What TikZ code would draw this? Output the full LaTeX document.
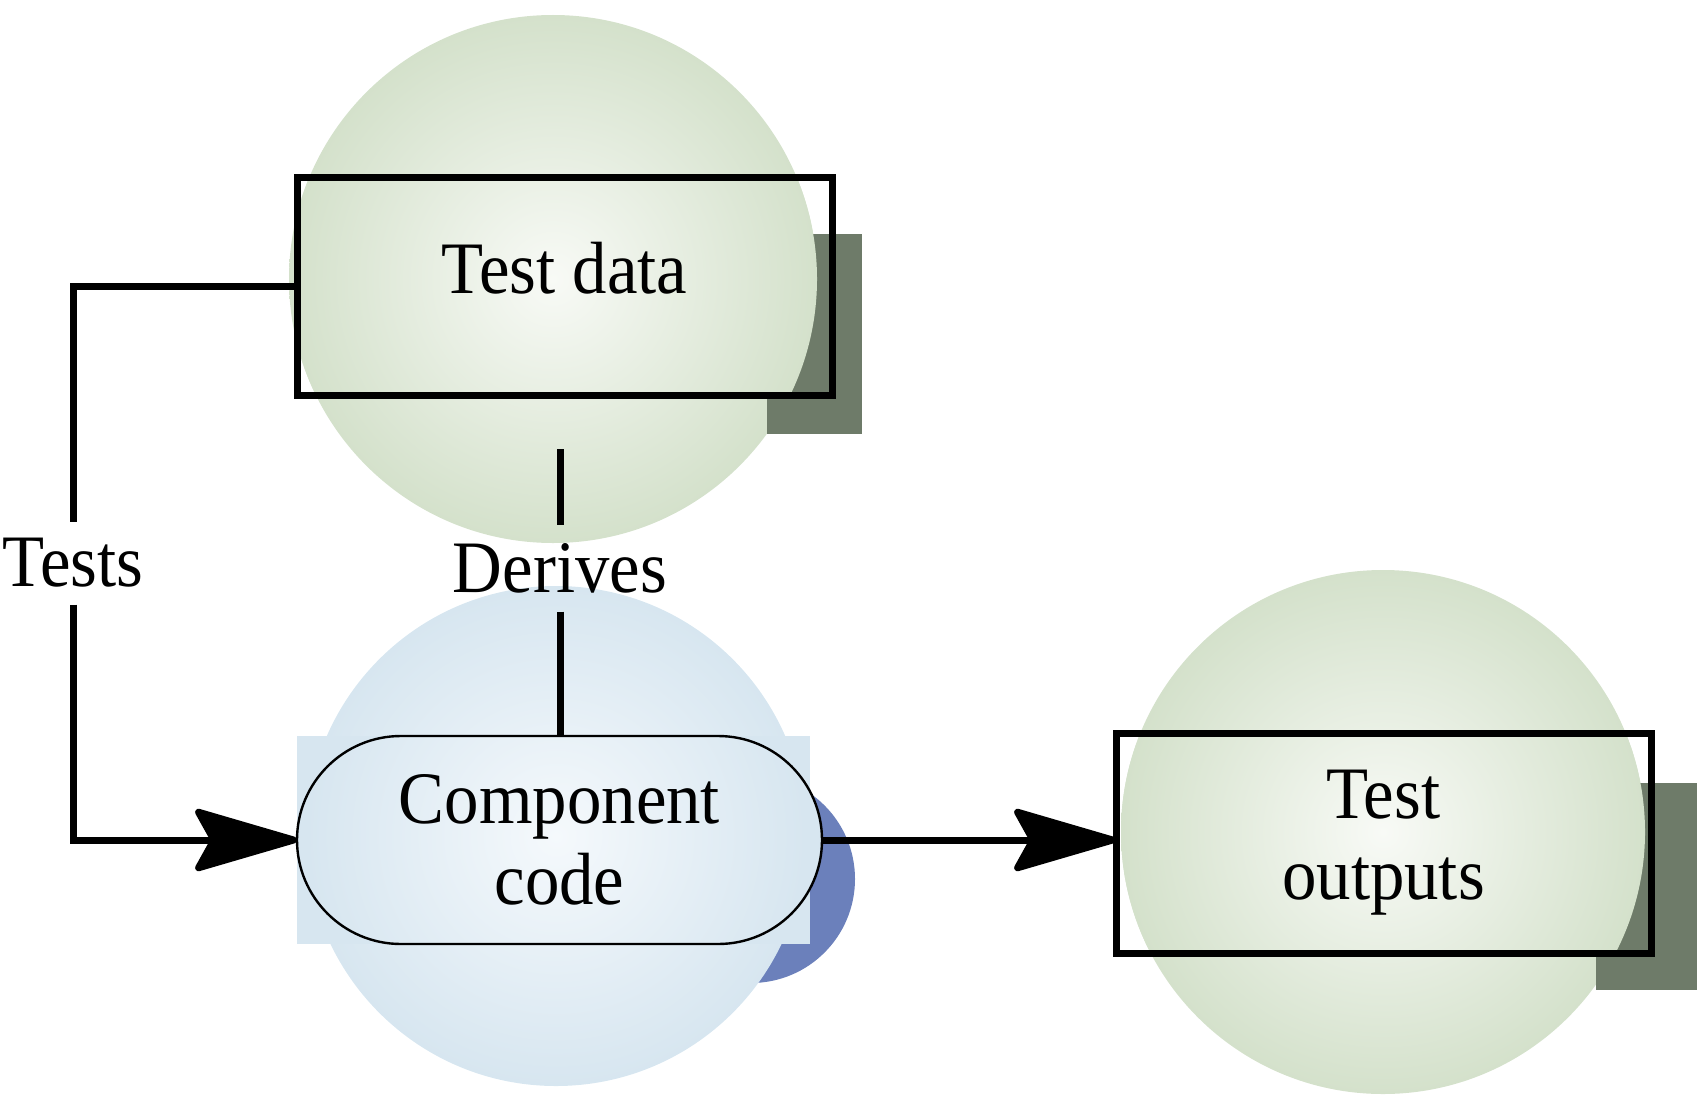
\documentclass[tikz,border=0pt]{standalone}
\usepackage{fontspec}
\setmainfont{Liberation Serif}[FakeStretch=0.93]
\usepackage{tikz}
\usetikzlibrary{arrows.meta,backgrounds,calc}
\definecolor{gedge}{HTML}{D4E1CB}
\definecolor{gcore}{HTML}{F8FAF6}
\definecolor{gshade}{HTML}{6E7B69}
\definecolor{bedge}{HTML}{D7E6F0}
\definecolor{bcore}{HTML}{F5F9FC}
\definecolor{bshade}{HTML}{6B80BB}
\tikzset{
	test flow/.style={
		x=0.5pt, y=-0.5pt,
		line width=3.5pt,
		font=\fontsize{37}{40.5}\selectfont,
		box/.style={draw, line width=3.5pt, inner sep=0pt, outer sep=0pt,
			minimum width=267.5pt, minimum height=109pt, align=center},
		pill/.style={draw, line width=1.2pt, rounded corners=52pt, inner sep=0pt,
			outer sep=0pt, minimum width=262.5pt, minimum height=104pt, align=center},
		lbl/.style={inner sep=0pt, minimum height=38pt},
		ar/.style={-{Stealth[length=57pt,width=33pt,inset=9pt,round]}},
		green ball/.style={inner color=gcore, outer color=gedge},
		blue ball/.style={inner color=bcore, outer color=bedge}
		}
}

\begin{document}
\begin{tikzpicture}[test flow]
	\useasboundingbox (0,0) rectangle (1701,1102);
	\node[box, text height=25pt, text depth=18pt] (data) at (564.5,286) {Test data};
	\node[pill] (comp) at (559.5,840) {Component\\code};
	\node[box, minimum height=110pt] (outs) at (1383.5,843) {Test\\outputs};
	\node[lbl] (tests) at (73,563) {Tests};
	\node[lbl, minimum height=40pt] (der) at (560,568) {Derives};

	\draw (data.west) -| (tests.north);
	\draw[ar] (tests.south) |- (comp.west);
	\draw[shorten <=27pt] (der.north |- data.south) -- (der.north);
	\draw (der.south) -- (der.south |- comp.north);
	\draw[ar] (comp.east) -- (comp.east -| outs.west);

	\begin{scope}[on background layer]
		% balls and drop shadows
		\shade[green ball] (553,279) circle[radius=132pt];
		\fill[gshade] (767,234) rectangle (862,434);
		\begin{scope}
			\clip (data.south west) rectangle (data.north east);
			\shade[green ball] (553,279) circle[radius=132pt];
		\end{scope}
		\shade[green ball] (1383,832) circle[radius=131pt];
		\fill[gshade] (1596,783) rectangle (1697,990);
		\begin{scope}
			\clip (outs.south west) rectangle (outs.north east);
			\shade[green ball] (1383,832) circle[radius=131pt];
		\end{scope}
		\fill[bshade, rounded corners=52pt] ($(comp.south west)+(33,39)$) rectangle ($(comp.north east)+(33,39)$);
		\shade[blue ball] (556,836) circle[radius=125pt];
		\fill[bedge] (comp.north west) rectangle ($(comp.south east)+(-12,0)$);
		\begin{scope}
			\clip[rounded corners=52pt] (comp.south west) rectangle (comp.north east);
			\fill[bedge] (comp.south west) rectangle (comp.north east);
			\shade[blue ball] (556,836) circle[radius=125pt];
		\end{scope}
	\end{scope}
\end{tikzpicture}
\end{document}
